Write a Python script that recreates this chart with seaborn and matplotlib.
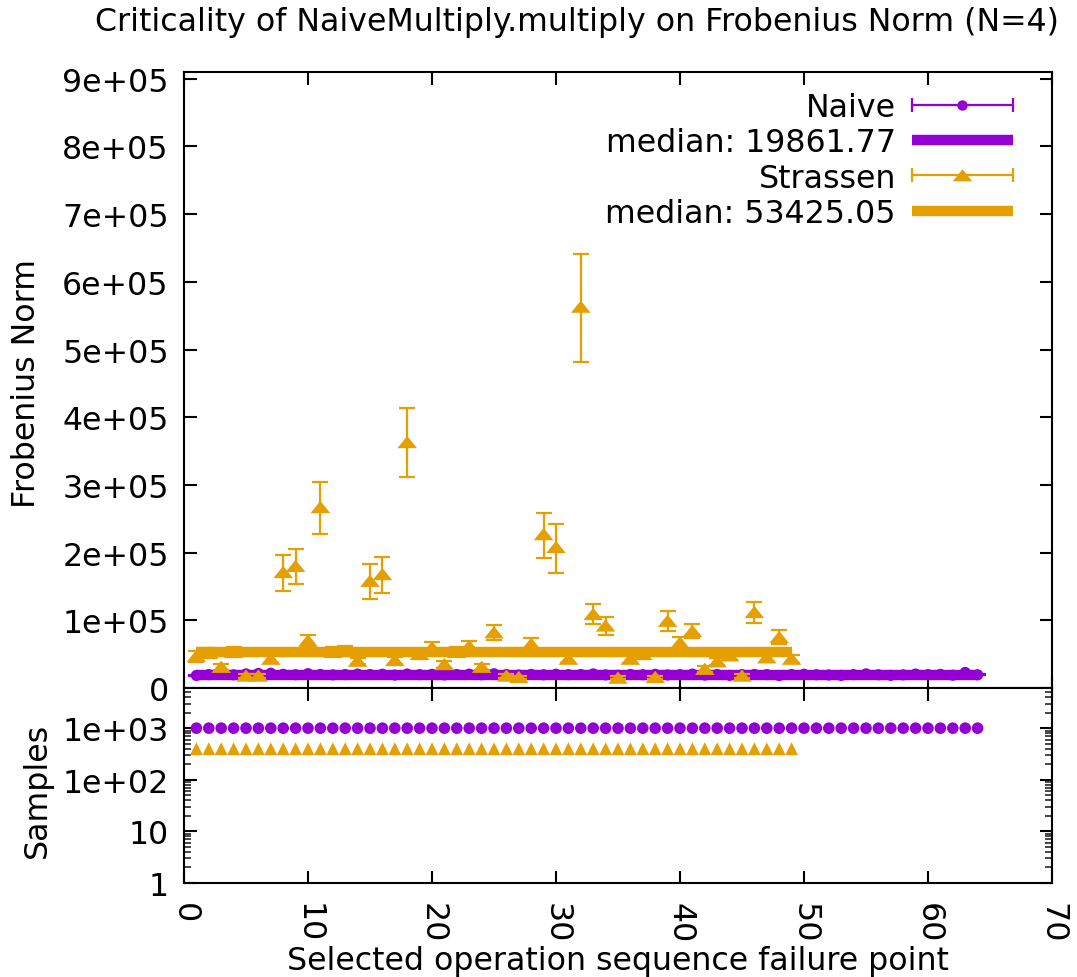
import numpy as np
import pandas as pd
import matplotlib
matplotlib.use("Agg")
import matplotlib.pyplot as plt
import seaborn as sns
from matplotlib.lines import Line2D
from matplotlib.path import Path
from matplotlib.legend_handler import HandlerLine2D, HandlerTuple
from matplotlib.ticker import FixedLocator, LogLocator, NullFormatter

# ---------------- data ----------------
title = "Criticality of NaiveMultiply.multiply on Frobenius Norm (N=4)"
xlabel = "Selected operation sequence failure point"
ylabel_top = "Frobenius Norm"
ylabel_bottom = "Samples"

naive_x = list(range(1, 65))
naive_y = [18500, 19800, 20100, 19500, 20800, 21500, 21800, 20200,
           19600, 21200, 20000, 19400, 19800, 20500, 19900, 20300,
           19100, 20600, 19700, 20100, 19300, 19900, 20400, 19600,
           21000, 19800, 19200, 20100, 19500, 20300, 19700, 19900,
           20800, 19400, 18800, 20000, 19600, 20200, 19300, 19800,
           20500, 19100, 19900, 18700, 19700, 20000, 19800, 18400,
           19900, 20300, 19600, 19200, 18600, 19700, 20900, 19600,
           18700, 19400, 20600, 19800, 20100, 18900, 23000, 19500]
naive_err = [600] * 64
naive_samples = [1000] * 64
naive_median = 19861.77

strassen_x = list(range(1, 50))
strassen_y = [47000, 52000, 31000, 53000, 18000, 18000, 43000, 171000,
              180000, 70000, 267000, 53000, 55000, 40000, 158000, 168000,
              41000, 363000, 50000, 60000, 35000, 53000, 62000, 31000,
              82000, 18000, 16000, 65000, 227000, 208000, 43000, 563000,
              109000, 92000, 15000, 43000, 50000, 16000, 99000, 67000,
              84000, 28000, 39000, 48000, 18000, 112000, 45000, 75000,
              43000]
strassen_lo = [8000, 7000, 4000, 7000, 2500, 2500, 6000, 27000,
               27000, 9000, 40000, 7000, 7000, 5000, 27000, 28000,
               5000, 52000, 7000, 8000, 5000, 7000, 8000, 4000,
               11000, 2500, 2200, 9000, 35000, 38000, 6000, 81000,
               15000, 13000, 2000, 6000, 7000, 2200, 15000, 9000,
               10000, 4000, 5000, 7000, 2500, 16000, 6000, 10000,
               6000]
strassen_hi = [8000, 7000, 4000, 7000, 2500, 2500, 6000, 26000,
               25000, 9000, 38000, 7000, 7000, 5000, 25000, 25000,
               5000, 51000, 7000, 8000, 5000, 7000, 8000, 4000,
               11000, 2500, 2200, 9000, 31000, 35000, 6000, 78000,
               15000, 13000, 2000, 6000, 7000, 2200, 15000, 9000,
               11000, 4000, 5000, 7000, 2500, 15000, 6000, 10000,
               6000]
strassen_samples = [400] * 49
strassen_median = 53425.05

top_yticks = [0, 1e5, 2e5, 3e5, 4e5, 5e5, 6e5, 7e5, 8e5, 9e5]
bottom_yticks = [1, 10, 100, 1000]
bottom_ytick_labels = ["1", "10", "1e+02", "1e+03"]
xticks = [0, 10, 20, 30, 40, 50, 60, 70]

PURPLE = "#9400D3"
ORANGE = "#E69F00"

# ---------------- style ----------------
sns.set_theme(style="white")
plt.rcParams['font.family'] = ['DejaVu Sans']
FS = 22.8

naive_df = pd.DataFrame({"x": naive_x, "y": naive_y, "n": naive_samples,
                         "med": [naive_median] * len(naive_x)})
str_df = pd.DataFrame({"x": strassen_x, "y": strassen_y, "n": strassen_samples,
                       "med": [strassen_median] * len(strassen_x)})

fig = plt.figure(figsize=(10.77, 9.78), dpi=100)
W_PX, H_PX = 1077, 978
L, R = 184 / W_PX, 1052 / W_PX
top_main, bot_main, bot_low = 73, 689, 884
ax = fig.add_axes([L, 1 - bot_main / H_PX, R - L, (bot_main - top_main) / H_PX])
ax2 = fig.add_axes([L, 1 - bot_low / H_PX, R - L, (bot_low - bot_main) / H_PX])

tri_path = Path([(0, 0.65), (-1, -0.6), (1, -0.6), (0, 0.65)],
                [Path.MOVETO, Path.LINETO, Path.LINETO, Path.CLOSEPOLY])

# Naive
ax.errorbar(naive_df["x"], naive_df["y"], yerr=naive_err, fmt="none",
            ecolor=PURPLE, elinewidth=1.6, capsize=5.5, capthick=1.6, zorder=2)
sns.scatterplot(data=naive_df, x="x", y="y", ax=ax, color=PURPLE, marker="o",
                s=65, edgecolor="none", linewidth=0, zorder=3)
sns.lineplot(data=naive_df, x="x", y="med", ax=ax, color=PURPLE, linewidth=7.5,
             zorder=4, solid_capstyle="butt")
# Strassen
ax.errorbar(str_df["x"], str_df["y"], yerr=[strassen_lo, strassen_hi], fmt="none",
            ecolor=ORANGE, elinewidth=1.6, capsize=5.5, capthick=1.6, zorder=5)
sns.scatterplot(data=str_df, x="x", y="y", ax=ax, color=ORANGE, marker=tri_path,
                s=200, edgecolor="none", linewidth=0, zorder=6)
sns.lineplot(data=str_df, x="x", y="med", ax=ax, color=ORANGE, linewidth=7.5,
             zorder=7, solid_capstyle="butt")

# Samples panel
sns.scatterplot(data=naive_df, x="x", y="n", ax=ax2, color=PURPLE, marker="o",
                s=70, edgecolor="none", linewidth=0, zorder=3)
sns.scatterplot(data=str_df, x="x", y="n", ax=ax2, color=ORANGE, marker="^",
                s=85, edgecolor="none", linewidth=0, zorder=3)

# ---------------- axes formatting ----------------
for a in (ax, ax2):
    a.set_xlim(0, 70)
    a.set_xticks(xticks)
    for sp in a.spines.values():
        sp.set_color("black")
        sp.set_linewidth(1.5)
        sp.set_visible(True)
    a.tick_params(which="major", direction="in", length=9, width=1.5,
                  top=True, right=True, bottom=True, left=True,
                  labelsize=FS, colors="black")
    a.set_xlabel("")
    a.set_ylabel("")

ax.set_ylim(0, 9.1e5)
ax.set_yticks(top_yticks)
ax.set_yticklabels(["0" if v == 0 else f"{v:.0e}" for v in top_yticks])
ax.tick_params(axis="x", labelbottom=False)
ax.tick_params(axis="y", pad=11)

ax2.set_yscale("log")
ax2.set_ylim(1, 6000)
ax2.yaxis.set_major_locator(FixedLocator(bottom_yticks))
ax2.set_yticklabels(bottom_ytick_labels)
ax2.yaxis.set_minor_locator(LogLocator(base=10, subs=np.arange(2, 10), numticks=20))
ax2.yaxis.set_minor_formatter(NullFormatter())
ax2.tick_params(which="minor", axis="y", direction="in", length=5, width=1.2,
                left=True, right=True)
ax2.tick_params(axis="y", pad=11)
ax2.tick_params(axis="x", pad=14)
for lab in ax2.get_xticklabels():
    lab.set_rotation(-90)
    lab.set_ha("center")
    lab.set_va("top")

fig.text(618 / W_PX, 1 - 962 / H_PX, xlabel, fontsize=FS, ha="center",
         va="center", color="black")
fig.text(27 / W_PX, 1 - 383 / H_PX, ylabel_top, rotation=90, fontsize=FS,
         ha="center", va="center", color="black")
fig.text(37 / W_PX, 1 - 790 / H_PX, ylabel_bottom, rotation=90, fontsize=FS,
         ha="center", va="center", color="black")
fig.text(577 / W_PX, 1 - 22 / H_PX, title, fontsize=FS, ha="center", va="center",
         color="black")

# ---------------- legend ----------------
naive_cap = Line2D([], [], color=PURPLE, lw=1.6, marker="|", ms=10, mew=1.6)
naive_pt = Line2D([], [], color=PURPLE, lw=0, marker="o", ms=7.5, mec="none")
str_cap = Line2D([], [], color=ORANGE, lw=1.6, marker="|", ms=10, mew=1.6)
str_pt = Line2D([], [], color=ORANGE, lw=0, marker=tri_path, ms=14, mec="none")
naive_med = Line2D([], [], color=PURPLE, lw=7.5, solid_capstyle="butt")
str_med = Line2D([], [], color=ORANGE, lw=7.5, solid_capstyle="butt")

handles = [(naive_cap, naive_pt), naive_med, (str_cap, str_pt), str_med]
labels = ["Naive", f"median: {naive_median:.2f}", "Strassen",
          f"median: {strassen_median:.2f}"]
leg = ax.legend(handles, labels, loc="upper right", bbox_to_anchor=(0.955, 0.967),
                frameon=False, markerfirst=False, handlelength=3.2,
                handletextpad=0.5, labelspacing=0.13, fontsize=FS,
                borderpad=0, borderaxespad=0,
                handler_map={tuple: HandlerTuple(ndivide=1),
                             naive_cap: HandlerLine2D(numpoints=2, marker_pad=0),
                             str_cap: HandlerLine2D(numpoints=2, marker_pad=0)})
for t in leg.get_texts():
    t.set_color("black")

fig.savefig("out.png", dpi=100)
